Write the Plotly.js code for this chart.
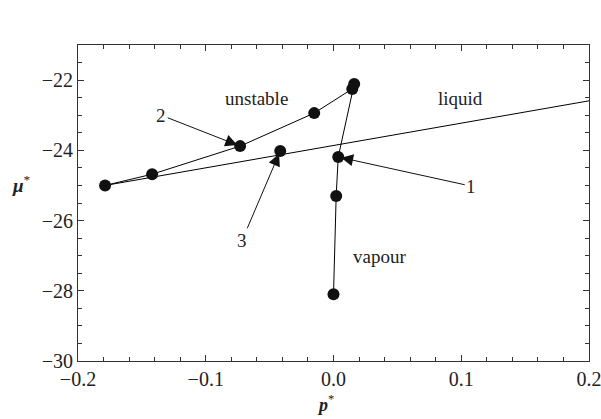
<!DOCTYPE html>
<html>
<head>
<meta charset="utf-8">
<script src="https://cdn.plot.ly/plotly-3.0.1.min.js"></script>
<style>html,body{margin:0;padding:0;background:#fff;}#chart{width:601px;height:419px;}</style>
</head>
<body>
<div id="chart"></div>
<script>
// Path of states (connected points)
const pathP  = [-0.1788, -0.1420, -0.0731, -0.0151, 0.0147, 0.0162, 0.0037, 0.0021, 0.0000];
const pathMu = [-25.00, -24.68, -23.88, -22.94, -22.25, -22.11, -24.19, -25.30, -28.10];
// Coexistence line
const lineP  = [-0.1788, 0.2];
const lineMu = [-25.00, -22.59];
// Isolated state 3
const state3P  = [-0.0417];
const state3Mu = [-24.02];
// Region labels
const regionText = ["unstable", "liquid", "vapour"];
const regionP    = [-0.0605, 0.0992, 0.0357];
const regionMu   = [-22.51, -22.51, -27.01];
// Numbered arrows: label, label position, arrow tip
const arrowText = ["2", "3", "1"];
const arrowLabP = [-0.1349, -0.0715, 0.1078];
const arrowLabMu = [-23.00, -26.56, -25.02];
const arrowTipP = [-0.0731, -0.0417, 0.0037];
const arrowTipMu = [-23.88, -24.02, -24.19];

const FONT = "Liberation Serif";

const traces = [
  {x: lineP, y: lineMu, mode: 'lines', line: {color: '#000', width: 1}, showlegend: false, hoverinfo: 'skip'},
  {x: pathP, y: pathMu, mode: 'lines+markers', line: {color: '#000', width: 1},
   marker: {color: '#111', size: 12}, showlegend: false},
  {x: state3P, y: state3Mu, mode: 'markers', marker: {color: '#111', size: 12}, showlegend: false}
];

const annotations = [];
for (let i = 0; i < regionText.length; i++) {
  annotations.push({x: regionP[i], y: regionMu[i], xref: 'x', yref: 'y', text: regionText[i],
    showarrow: false, font: {family: FONT, size: 19, color: '#222'}});
}
for (let i = 0; i < arrowText.length; i++) {
  annotations.push({x: arrowTipP[i], y: arrowTipMu[i], xref: 'x', yref: 'y',
    ax: arrowLabP[i], ay: arrowLabMu[i], axref: 'x', ayref: 'y',
    text: arrowText[i], showarrow: true, arrowhead: 2, arrowsize: 2.4, arrowwidth: 1,
    arrowcolor: '#111', standoff: 3, font: {family: FONT, size: 19, color: '#222'}});
}
annotations.push({xref: 'paper', yref: 'paper', x: -0.11, y: 0.56, xanchor: 'center', yanchor: 'middle',
  text: '<b><i>μ</i></b><sup>*</sup>', showarrow: false, font: {family: FONT, size: 19, color: '#222'}});
annotations.push({xref: 'paper', yref: 'paper', x: 0.485, y: -0.135, xanchor: 'center', yanchor: 'middle',
  text: '<b><i>p</i></b><sup>*</sup>', showarrow: false, font: {family: FONT, size: 18, color: '#222'}});

const axisCommon = {
  showgrid: false, zeroline: false, showline: true, linecolor: '#333', linewidth: 1,
  mirror: 'ticks', ticks: 'inside', ticklen: 6, tickwidth: 1, tickcolor: '#333',
  ticklabeloverflow: 'allow',
  tickfont: {family: FONT, size: 20, color: '#222'}
};

const layout = {
  width: 601, height: 419,
  margin: {l: 78, r: 12, t: 45, b: 58},
  paper_bgcolor: '#fff', plot_bgcolor: '#fff',
  font: {family: FONT},
  xaxis: Object.assign({}, axisCommon, {range: [-0.2, 0.2], dtick: 0.1, tick0: 0, tickformat: '.1f',
    minor: {ticks: 'inside', dtick: 0.02, ticklen: 4, tickcolor: '#333'}}),
  yaxis: Object.assign({}, axisCommon, {range: [-30, -21], dtick: 2, tick0: -30,
    minor: {ticks: 'inside', dtick: 0.5, ticklen: 4, tickcolor: '#333'}}),
  annotations: annotations,
  showlegend: false
};

Plotly.newPlot('chart', traces, layout, {displayModeBar: false, staticPlot: true});
</script>
</body>
</html>
